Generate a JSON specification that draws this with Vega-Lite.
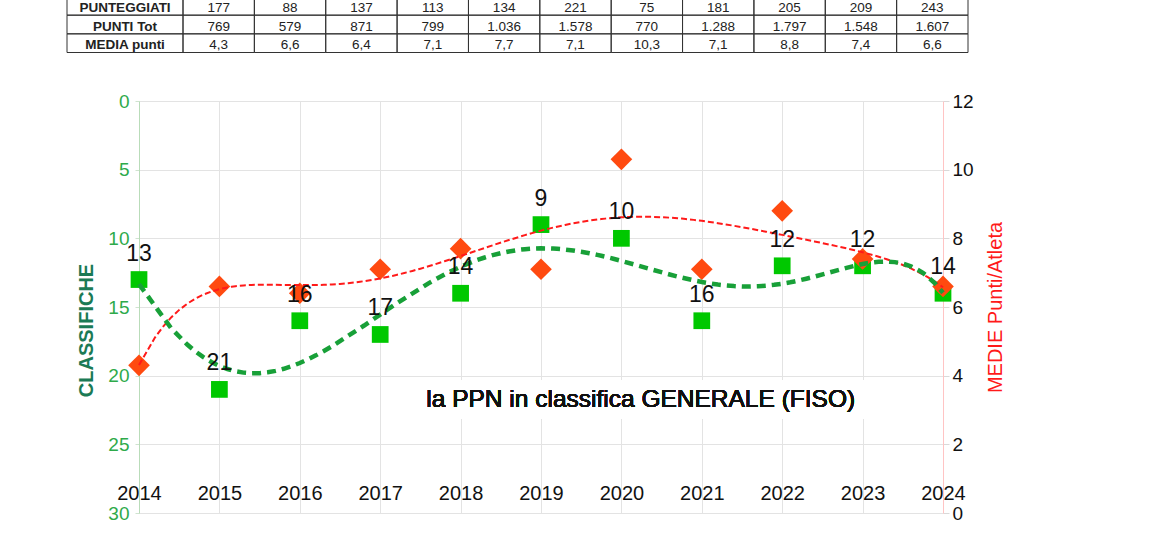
{
  "$schema": "https://vega.github.io/schema/vega-lite/v6.json",
  "width": 804,
  "height": 412,
  "autosize": {"type": "none"},
  "padding": {"left": 139, "top": 101, "right": 227, "bottom": 27},
  "background": "white",
  "config": {
    "locale": {"number": {"decimal": ",", "thousands": ".", "grouping": [3], "currency": ["€", ""]}},
    "view": {"stroke": null},
    "font": "Liberation Sans",
    "text": {"font": "Liberation Sans"},
    "axis": {"labelFont": "Liberation Sans", "titleFont": "Liberation Sans"}
  },
  "datasets": {
    "dati": [
      {"anno": 2014, "classifica": 13, "media": 4.3, "punteggiati": 177, "punti": 769},
      {"anno": 2015, "classifica": 21, "media": 6.6, "punteggiati": 88, "punti": 579},
      {"anno": 2016, "classifica": 16, "media": 6.4, "punteggiati": 137, "punti": 871},
      {"anno": 2017, "classifica": 17, "media": 7.1, "punteggiati": 113, "punti": 799},
      {"anno": 2018, "classifica": 14, "media": 7.7, "punteggiati": 134, "punti": 1036},
      {"anno": 2019, "classifica": 9, "media": 7.1, "punteggiati": 221, "punti": 1578},
      {"anno": 2020, "classifica": 10, "media": 10.3, "punteggiati": 75, "punti": 770},
      {"anno": 2021, "classifica": 16, "media": 7.1, "punteggiati": 181, "punti": 1288},
      {"anno": 2022, "classifica": 12, "media": 8.8, "punteggiati": 205, "punti": 1797},
      {"anno": 2023, "classifica": 12, "media": 7.4, "punteggiati": 209, "punti": 1548},
      {"anno": 2024, "classifica": 14, "media": 6.6, "punteggiati": 243, "punti": 1607}
    ],
    "etichette": [
      {"riga": "punteggiati", "testo": "PUNTEGGIATI"},
      {"riga": "punti", "testo": "PUNTI Tot"},
      {"riga": "media", "testo": "MEDIA punti"}
    ]
  },
  "data": {"name": "dati"},
  "resolve": {"scale": {"x": "independent", "y": "independent"}},
  "layer": [
    {
      "resolve": {"scale": {"y": "independent"}},
      "encoding": {
        "x": {
          "field": "anno", "type": "quantitative",
          "scale": {"domain": [2014, 2024], "nice": false, "zero": false},
          "axis": {
            "values": [2014, 2015, 2016, 2017, 2018, 2019, 2020, 2021, 2022, 2023, 2024],
            "format": "d", "title": null, "domain": false, "ticks": false,
            "labelPadding": -30, "labelFlush": false, "labelFontSize": 20, "labelColor": "#111",
            "grid": true, "gridColor": "#e3e3e3"
          }
        }
      },
      "layer": [
        {
          "layer": [
            {
              "mark": {"type": "rect", "fill": "white"},
              "encoding": {
                "x": {"datum": 2017.3, "type": "quantitative"},
                "x2": {"datum": 2023.25},
                "y": {"datum": 20.35, "type": "quantitative"},
                "y2": {"datum": 23.15}
              }
            },
            {
              "mark": {"type": "text", "fontSize": 24.5, "color": "#111", "align": "center", "baseline": "middle"},
              "encoding": {
                "x": {"datum": 2020.24, "type": "quantitative"},
                "y": {"datum": 21.75, "type": "quantitative"},
                "text": {"value": "la PPN in classifica GENERALE (FISO)"}
              }
            },
            {
              "mark": {"type": "point", "shape": "square", "filled": true, "color": "#00c800", "size": 280, "opacity": 1},
              "encoding": {
                "y": {
                  "field": "classifica", "type": "quantitative",
                  "scale": {"domain": [0, 30], "reverse": true, "nice": false, "zero": false},
                  "axis": {
                    "orient": "left",
                    "values": [0, 5, 10, 15, 20, 25, 30],
                    "grid": true, "gridColor": "#e3e3e3",
                    "domainColor": "#b9dcb9", "tickColor": "#cfe3cf", "tickSize": 4,
                    "labelColor": "#2eaa4a", "labelFontSize": 19, "labelPadding": 6,
                    "title": "CLASSIFICHE", "titleColor": "#1b7a55", "titleFontSize": 20,
                    "titleFontWeight": "bold", "titlePadding": 11, "titleY": 229
                  }
                }
              }
            }
          ]
        },
        {
          "layer": [
            {
              "mark": {"type": "point", "shape": "diamond", "filled": true, "color": "#ff4a10", "size": 470, "opacity": 1},
              "encoding": {
                "y": {
                  "field": "media", "type": "quantitative",
                  "scale": {"domain": [0, 12], "nice": false, "zero": true},
                  "axis": {
                    "orient": "right",
                    "values": [0, 2, 4, 6, 8, 10, 12],
                    "grid": false,
                    "domainColor": "#ffc4c4", "tickColor": "#d9d9d9", "tickSize": 6,
                    "labelColor": "#111", "labelFontSize": 19, "labelPadding": 3,
                    "title": "MEDIE Punti/Atleta", "titleColor": "#ff1a1a", "titleFontSize": 20,
                    "titleFontWeight": "normal", "titleAngle": 270, "titleBaseline": "top", "titlePadding": 12
                  }
                }
              }
            },
            {
              "transform": [{"regression": "media", "on": "anno", "method": "poly", "order": 6, "extent": [2014, 2024]}],
              "mark": {"type": "line", "color": "#ff1a1a", "strokeWidth": 2, "strokeDash": [6, 3]},
              "encoding": {
                "y": {"field": "media", "type": "quantitative"}
              }
            }
          ]
        },
        {
          "layer": [
            {
              "transform": [{"regression": "classifica", "on": "anno", "method": "poly", "order": 6, "extent": [2014, 2024]}],
              "mark": {"type": "line", "color": "#18a038", "strokeWidth": 4.5, "strokeDash": [9, 6]},
              "encoding": {
                "y": {
                  "field": "classifica", "type": "quantitative",
                  "scale": {"domain": [0, 30], "reverse": true, "nice": false, "zero": false},
                  "axis": null
                }
              }
            },
            {
              "mark": {"type": "text", "fontSize": 23, "color": "#111", "dy": -26, "align": "center", "baseline": "middle"},
              "encoding": {
                "y": {"field": "classifica", "type": "quantitative"},
                "text": {"field": "classifica", "type": "quantitative"}
              }
            }
          ]
        }
      ]
    },
    {
      "encoding": {
        "x": {
          "field": "anno", "type": "ordinal",
          "scale": {"range": [44, 829], "paddingInner": 0, "paddingOuter": 0},
          "axis": null
        }
      },
      "layer": [
        {
          "transform": [{"fold": ["punteggiati", "punti", "media"], "as": ["riga", "v"]}],
          "mark": {"type": "rect", "fill": "transparent", "stroke": "#333", "strokeWidth": 1},
          "encoding": {
            "y": {
              "field": "riga", "type": "nominal",
              "scale": {"domain": ["punteggiati", "punti", "media"], "range": [-104.5, -48.5], "paddingInner": 0, "paddingOuter": 0},
              "axis": null
            }
          }
        },
        {
          "mark": {"type": "text", "fontSize": 13.5, "color": "#222", "align": "center", "baseline": "middle", "dy": 2},
          "encoding": {
            "y": {"datum": "punteggiati", "type": "nominal"},
            "text": {"field": "punteggiati", "type": "quantitative", "format": ","}
          }
        },
        {
          "mark": {"type": "text", "fontSize": 13.5, "color": "#222", "align": "center", "baseline": "middle", "dy": 2},
          "encoding": {
            "y": {"datum": "punti", "type": "nominal"},
            "text": {"field": "punti", "type": "quantitative", "format": ","}
          }
        },
        {
          "mark": {"type": "text", "fontSize": 13.5, "color": "#222", "align": "center", "baseline": "middle", "dy": 2},
          "encoding": {
            "y": {"datum": "media", "type": "nominal"},
            "text": {"field": "media", "type": "quantitative", "format": ".1f"}
          }
        }
      ]
    },
    {
      "data": {"name": "etichette"},
      "encoding": {
        "x": {
          "datum": "etichetta", "type": "nominal",
          "scale": {"domain": ["etichetta"], "range": [-72, 44], "paddingInner": 0, "paddingOuter": 0},
          "axis": null
        },
        "y": {
          "field": "riga", "type": "nominal",
          "scale": {"domain": ["punteggiati", "punti", "media"], "range": [-104.5, -48.5], "paddingInner": 0, "paddingOuter": 0},
          "axis": null
        }
      },
      "layer": [
        {"mark": {"type": "rect", "fill": "transparent", "stroke": "#333", "strokeWidth": 1}},
        {
          "mark": {"type": "text", "fontSize": 13.5, "fontWeight": "bold", "color": "#222", "align": "center", "baseline": "middle", "dy": 2},
          "encoding": {"text": {"field": "testo", "type": "nominal"}}
        }
      ]
    }
  ]
}
